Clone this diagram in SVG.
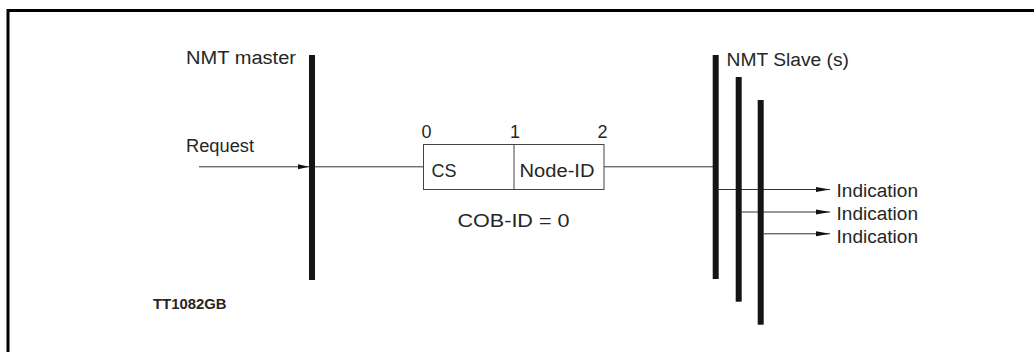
<svg xmlns="http://www.w3.org/2000/svg" width="1034" height="352" viewBox="0 0 1034 352">
<style>
text{font-family:"Liberation Sans",Arial,sans-serif;fill:#262626;font-size:18px}
.bar{fill:#151515}
.ln{stroke:#333;stroke-width:1;fill:none}
.box{fill:#fff;stroke:#444;stroke-width:1}
.id{font-size:14px;font-weight:bold}
</style>
<defs>
<marker id="ah" markerWidth="14" markerHeight="6" refX="14" refY="3" orient="auto" markerUnits="userSpaceOnUse">
<path d="M0,0.5 L14,3 L0,5.5 Z" fill="#111"/>
</marker>
<marker id="ah2" markerWidth="11" markerHeight="6" refX="11" refY="3" orient="auto" markerUnits="userSpaceOnUse">
<path d="M0,0.5 L11,3 L0,5.5 Z" fill="#111"/>
</marker>
</defs>
<rect width="1034" height="352" fill="#fff"/>
<path d="M8,352 V10.5 H1034" fill="none" stroke="#000" stroke-width="3"/>
<g id="connectors">
<line class="ln" x1="199" y1="166.8" x2="309" y2="166.8" marker-end="url(#ah2)"/>
<line class="ln" x1="315" y1="166.8" x2="424" y2="166.8"/>
<line class="ln" x1="604" y1="166.8" x2="713" y2="166.8"/>
<line class="ln" x1="718.7" y1="189.5" x2="830" y2="189.5" marker-end="url(#ah)"/>
<line class="ln" x1="741.7" y1="212" x2="830" y2="212" marker-end="url(#ah)"/>
<line class="ln" x1="763.7" y1="233.8" x2="830" y2="233.8" marker-end="url(#ah)"/>
</g>
<g id="nmt-master">
<rect class="bar" x="309" y="55" width="6" height="225"/>
<text x="186" y="63.5" textLength="110" lengthAdjust="spacingAndGlyphs">NMT master</text>
<text x="186" y="151.5" textLength="68" lengthAdjust="spacingAndGlyphs">Request</text>
</g>
<g id="message">
<rect class="box" x="423.5" y="144.5" width="180.5" height="45"/>
<line class="box" x1="514" y1="144.5" x2="514" y2="189.5"/>
<text x="421.5" y="137.5">0</text>
<text x="510" y="137.5">1</text>
<text x="597.5" y="137.5">2</text>
<text x="431.5" y="176.5">CS</text>
<text x="519.5" y="176.5" textLength="75" lengthAdjust="spacingAndGlyphs">Node-ID</text>
<text x="457.5" y="226.5" textLength="112" lengthAdjust="spacingAndGlyphs">COB-ID = 0</text>
</g>
<g id="nmt-slaves">
<rect class="bar" x="712.7" y="55" width="6" height="224"/>
<rect class="bar" x="735.7" y="77" width="6" height="224.7"/>
<rect class="bar" x="757.7" y="100" width="6" height="224.7"/>
<text x="726.5" y="66" textLength="122.5" lengthAdjust="spacingAndGlyphs">NMT Slave (s)</text>
</g>
<g id="indications">
<text x="836.5" y="196.5" textLength="81.5" lengthAdjust="spacingAndGlyphs">Indication</text>
<text x="836.5" y="219.5" textLength="81.5" lengthAdjust="spacingAndGlyphs">Indication</text>
<text x="836.5" y="242.5" textLength="81.5" lengthAdjust="spacingAndGlyphs">Indication</text>
</g>
<text class="id" x="153" y="308.5" textLength="73.5" lengthAdjust="spacingAndGlyphs">TT1082GB</text>
</svg>
